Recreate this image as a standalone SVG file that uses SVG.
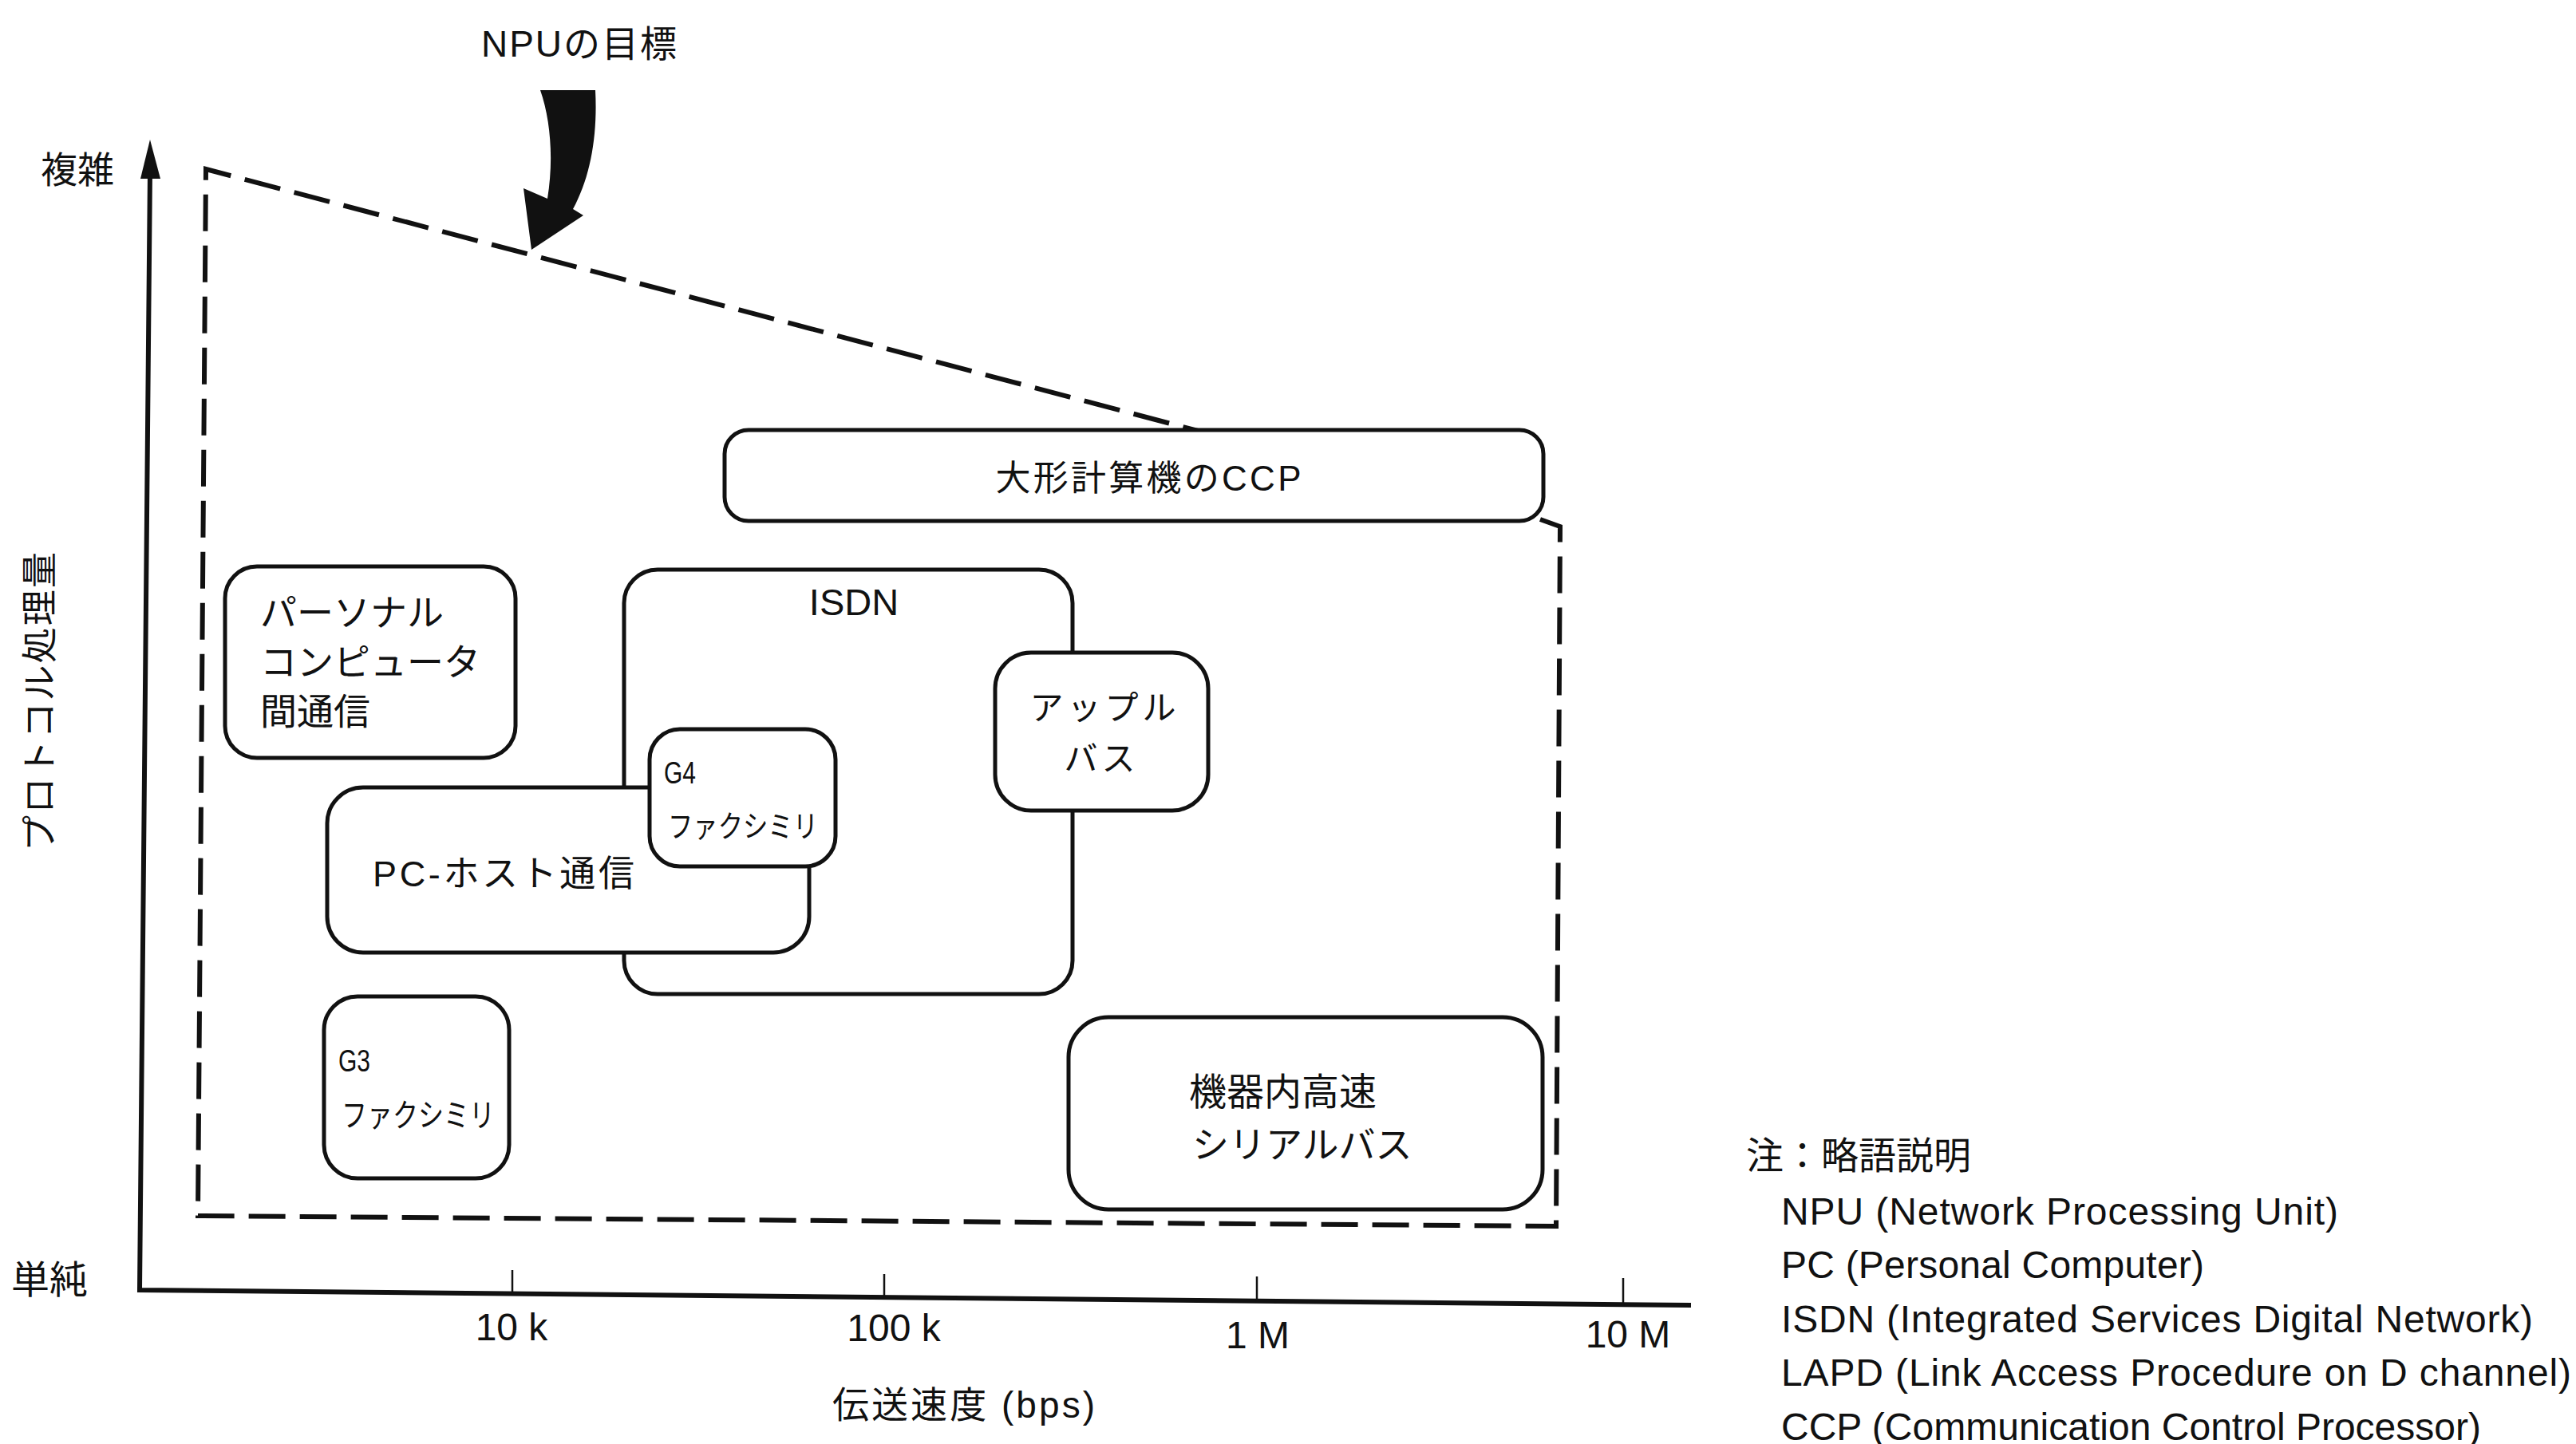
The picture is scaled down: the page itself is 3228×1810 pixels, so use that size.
<svg xmlns="http://www.w3.org/2000/svg" width="3228" height="1810" viewBox="0 0 3228 1810">
<style>
text{font-family:"Liberation Sans","Noto Sans CJK JP",sans-serif;fill:#111}
.box{fill:#fff;stroke:#111;stroke-width:5}
.dash{fill:none;stroke:#111;stroke-width:6;stroke-dasharray:46 18}
.axis{fill:none;stroke:#111;stroke-width:6}
.tick{stroke:#111;stroke-width:2.5}
.c{text-anchor:middle}
</style>
<rect width="3228" height="1810" fill="#fff"/>
<g id="axes">
<polyline class="axis" points="188,215 175,1617 2119,1636"/>
<polygon points="188,175 176,224 201,224" fill="#111"/>
<line class="tick" x1="642" y1="1592" x2="642" y2="1621"/>
<line class="tick" x1="1108" y1="1597" x2="1108" y2="1626"/>
<line class="tick" x1="1575" y1="1600" x2="1575" y2="1631"/>
<line class="tick" x1="2034" y1="1602" x2="2034" y2="1636"/>
<text x="51" y="229" font-size="46">複雑</text>
<text x="14" y="1621" font-size="48">単純</text>
<text transform="translate(66,1067) rotate(-90)" font-size="45" textLength="375">プロトコル処理量</text>
<text class="c" x="641" y="1680" font-size="48">10 k</text>
<text class="c" x="1120" y="1681" font-size="48">100 k</text>
<text class="c" x="1576" y="1690" font-size="48">1 M</text>
<text class="c" x="2040" y="1689" font-size="48">10 M</text>
<text x="1043" y="1777" font-size="46" textLength="329">伝送速度 (bps)</text>
</g>
<g id="npu-target">
<path class="dash" d="M1930,651 L1955,660 L1950,1537 L248,1524 L258,212 L1501,540"/>
<text x="603" y="71" font-size="46" textLength="245">NPUの目標</text>
</g>
<g id="connectors">
<path d="M677,113 L746,113 C749,170 740,222 718,262 L731,270 L666,313 L656,236 L686,249 C694,200 690,150 677,113 Z" fill="#111"/>
</g>
<g id="ccp">
<rect class="box" x="908" y="539" width="1026" height="114" rx="30"/>
<text class="c" x="1439" y="615" font-size="44" textLength="383">大形計算機のCCP</text>
</g>
<g id="pc-pc">
<rect class="box" x="282" y="710" width="364" height="240" rx="40"/>
<text x="326" y="784" font-size="46">パーソナル</text>
<text x="326" y="846" font-size="46">コンピュータ</text>
<text x="326" y="908" font-size="46">間通信</text>
</g>
<g id="isdn">
<rect class="box" x="782" y="714" width="562" height="532" rx="42"/>
<text class="c" x="1070" y="771" font-size="47">ISDN</text>
</g>
<g id="pc-host">
<rect class="box" x="410" y="987" width="604" height="207" rx="45"/>
<text x="467" y="1111" font-size="45" textLength="328">PC-ホスト通信</text>
</g>
<g id="g4">
<rect class="box" x="814" y="914" width="233" height="172" rx="38"/>
<text x="832" y="982" font-size="38" textLength="40" lengthAdjust="spacingAndGlyphs">G4</text>
<text x="837" y="1049" font-size="38" textLength="188" lengthAdjust="spacingAndGlyphs">ファクシミリ</text>
</g>
<g id="apple-bus">
<rect class="box" x="1247" y="818" width="267" height="198" rx="45"/>
<text class="c" x="1382" y="902" font-size="42" textLength="183">アップル</text>
<text class="c" x="1378" y="966" font-size="42" textLength="89">バス</text>
</g>
<g id="serial-bus">
<rect class="box" x="1339" y="1275" width="594" height="241" rx="50"/>
<text x="1490" y="1385" font-size="47">機器内高速</text>
<text x="1494" y="1451" font-size="46">シリアルバス</text>
</g>
<g id="g3">
<rect class="box" x="406" y="1249" width="232" height="228" rx="42"/>
<text x="424" y="1343" font-size="39" textLength="40" lengthAdjust="spacingAndGlyphs">G3</text>
<text x="428" y="1412" font-size="40" textLength="192" lengthAdjust="spacingAndGlyphs">ファクシミリ</text>
</g>
<g id="legend">
<text x="2188" y="1465" font-size="47">注：略語説明</text>
<text x="2232" y="1535" font-size="48" textLength="698">NPU (Network Processing Unit)</text>
<text x="2232" y="1602" font-size="48" textLength="530">PC (Personal Computer)</text>
<text x="2232" y="1670" font-size="48" textLength="942">ISDN (Integrated Services Digital Network)</text>
<text x="2232" y="1737" font-size="48" textLength="990">LAPD (Link Access Procedure on D channel)</text>
<text x="2232" y="1805" font-size="48" textLength="877">CCP (Communication Control Processor)</text>
</g>
</svg>
